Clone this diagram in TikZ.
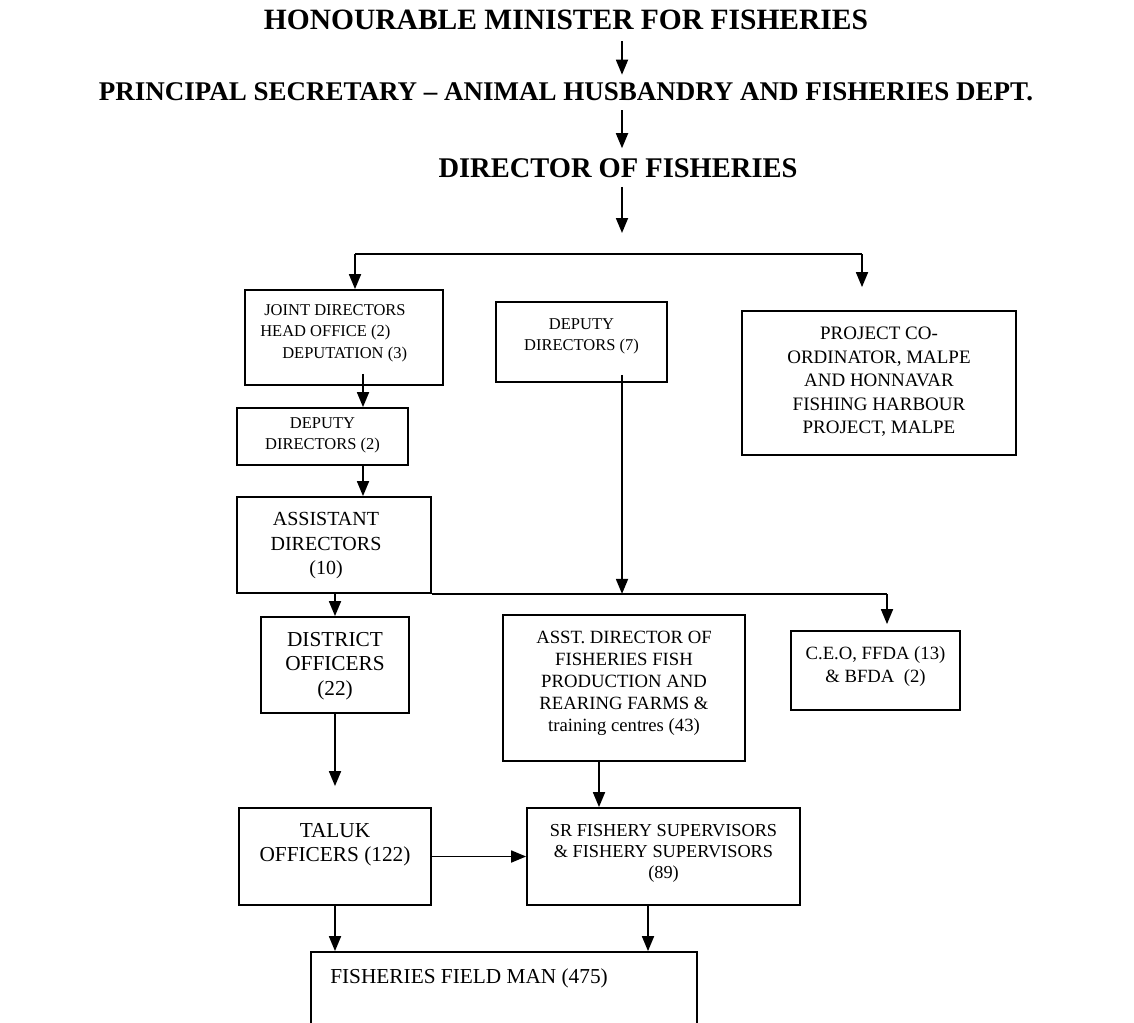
\documentclass[tikz,border=0pt]{standalone}
\usepackage{fontspec}
\setmainfont{Liberation Serif}
\usetikzlibrary{positioning,arrows.meta}

\newcommand\headfont{\fontsize{28.5}{33}\selectfont\bfseries}
\newcommand\smallboxfont{\fontsize{16.5}{21.5}\selectfont}
\newcommand\boxfont{\fontsize{18.7}{22}\selectfont}
\newcommand\bigboxfont{\fontsize{21.3}{24.5}\selectfont}

\begin{document}
\begin{tikzpicture}[x=1pt, y=-1pt,
		head/.style = {font=\headfont, inner sep=0pt},
		box/.style = {draw, line width=1.8pt, inner sep=0pt},
		txt/.style = {inner sep=0pt, align=center, font=\boxfont},
		smalltxt/.style = {txt, font=\smallboxfont},
		bigtxt/.style = {txt, font=\bigboxfont},
		arr/.style = {line width=1.8pt, -{Triangle[width=12pt,length=15pt]}},
		line/.style = {line width=1.8pt}]
	\useasboundingbox (0,0) rectangle (1134,1022);
	\clip (0,0) rectangle (1134,1022);
	
	% headings
	\node [head, font=\fontsize{29.5}{33}\selectfont\bfseries] (minister) at (566,20) {HONOURABLE MINISTER FOR FISHERIES};
	\node [head, font=\fontsize{27}{33}\selectfont\bfseries] (secretary) at (566,92) {PRINCIPAL SECRETARY -- ANIMAL HUSBANDRY AND FISHERIES DEPT.};
	\node [head] (director) at (618,168) {DIRECTOR OF FISHERIES};
	\coordinate (spine) at (622,0);
	\coordinate (dirend) at (622,233);
	\coordinate (barL) at (355,254);
	\coordinate (barR) at (862,254);
	
	% boxes
	\node [box, minimum width=198pt, minimum height=95pt] (jd) at (344,337.5) {};
	\node [box, minimum width=171pt, minimum height=80pt] (dd7) at (581.5,342) {};
	\node [box, minimum width=274pt, minimum height=144pt] (proj) at (879,383) {};
	\node [box, minimum width=171pt, minimum height=57pt] (dd2) at (322.5,436.5) {};
	\node [box, minimum width=194pt, minimum height=96pt] (ad) at (334,545) {};
	\node [box, minimum width=148pt, minimum height=96pt] (do) at (335,665) {};
	\node [box, minimum width=242pt, minimum height=146pt] (adf) at (624,688) {};
	\node [box, minimum width=169pt, minimum height=79pt] (ceo) at (875.5,670.5) {};
	\node [box, minimum width=192pt, minimum height=97pt] (to) at (335,856.5) {};
	\node [box, minimum width=273pt, minimum height=97pt] (sr) at (663.5,856.5) {};
	\node [box, minimum width=386pt, minimum height=110pt] (ffm) at (504,1007) {};
	
	% texts
	\node [smalltxt, align=left, anchor=north west] (jdtxt) at ([xshift=16pt,yshift=-15pt]jd.north west)
		{\hspace*{4pt}JOINT DIRECTORS\\HEAD OFFICE (2)\\\hspace*{22pt}DEPUTATION (3)};
	\node [smalltxt, below=17pt of dd7.north] (dd7txt) {DEPUTY\\DIRECTORS (7)};
	\node [txt, font=\fontsize{19}{23.5}\selectfont, below=17pt of proj.north] (projtxt)
		{PROJECT CO-\\ORDINATOR, MALPE\\AND HONNAVAR\\FISHING HARBOUR\\PROJECT, MALPE};
	\node [smalltxt, below=10pt of dd2.north] (dd2txt) {DEPUTY\\DIRECTORS (2)};
	\node [txt, font=\fontsize{20}{24.5}\selectfont, below=16pt of ad.north, xshift=-8pt] (adtxt) {ASSISTANT\\DIRECTORS\\(10)};
	\node [bigtxt, below=16pt of do.north] (dotxt) {DISTRICT\\OFFICERS\\(22)};
	\node [txt, below=17pt of adf.north] (adftxt)
		{ASST. DIRECTOR OF\\FISHERIES FISH\\PRODUCTION AND\\REARING FARMS \&\\training centres (43)};
	\node [txt, font=\fontsize{18.7}{23}\selectfont, below=16pt of ceo.north] (ceotxt) {C.E.O, FFDA (13)\\\& BFDA\ \ (2)};
	\node [bigtxt, below=16pt of to.north] (totxt) {TALUK\\OFFICERS (122)};
	\node [txt, font=\fontsize{18.3}{21}\selectfont, below=17pt of sr.north] (srtxt) {SR FISHERY SUPERVISORS\\\& FISHERY SUPERVISORS\\(89)};
	\node [bigtxt, anchor=north west] (ffmtxt) at ([xshift=20pt,yshift=-17pt]ffm.north west) {FISHERIES FIELD MAN (475)};
	
	% connectors
	\draw [arr, shorten <=11pt, shorten >=8pt] (minister.south -| spine) -- (secretary.north -| spine);
	\draw [arr, shorten <=9pt, shorten >=10pt] (secretary.south -| spine) -- (director.north -| spine);
	\draw [arr, shorten <=9pt] (director.south -| spine) -- (dirend);
	\draw [line] (barL) -- (barR);
	\draw [arr] (barL) -- (barL |- jd.north);
	\draw [arr, shorten >=23pt] (barR) -- (proj.north -| barR);
	\coordinate (jdout) at ([xshift=19pt,yshift=12pt]jd.south);
	\draw [arr] (jdout) -- (jdout |- dd2.north);
	\draw [arr] (jdout |- dd2.south) -- (jdout |- ad.north);
	\coordinate [xshift=11.5pt] (ceoin) at (ceo.north |- ad.south);
	\draw [line] (ad.south east) -- (ceoin);
	\draw [arr, shorten >=6pt] (ceoin) -- (ceoin |- ceo.north);
	\coordinate [yshift=8pt] (dd7out) at (dd7.south -| spine);
	\draw [arr] (dd7out) -- (dd7out |- ad.south);
	\draw [arr] (do.north |- ad.south) -- (do.north);
	\draw [arr, shorten >=21pt] (do.south) -- (do.south |- to.north);
	\coordinate (adfout) at ([xshift=-25pt]adf.south);
	\draw [arr] (adfout) -- (adfout |- sr.north);
	\draw [arr] (to.east) -- (sr.west);
	\draw [arr] (to.south) -- (to.south |- ffm.north);
	\coordinate (srout) at ([xshift=-15.5pt]sr.south);
	\draw [arr] (srout) -- (srout |- ffm.north);
\end{tikzpicture}
\end{document}
